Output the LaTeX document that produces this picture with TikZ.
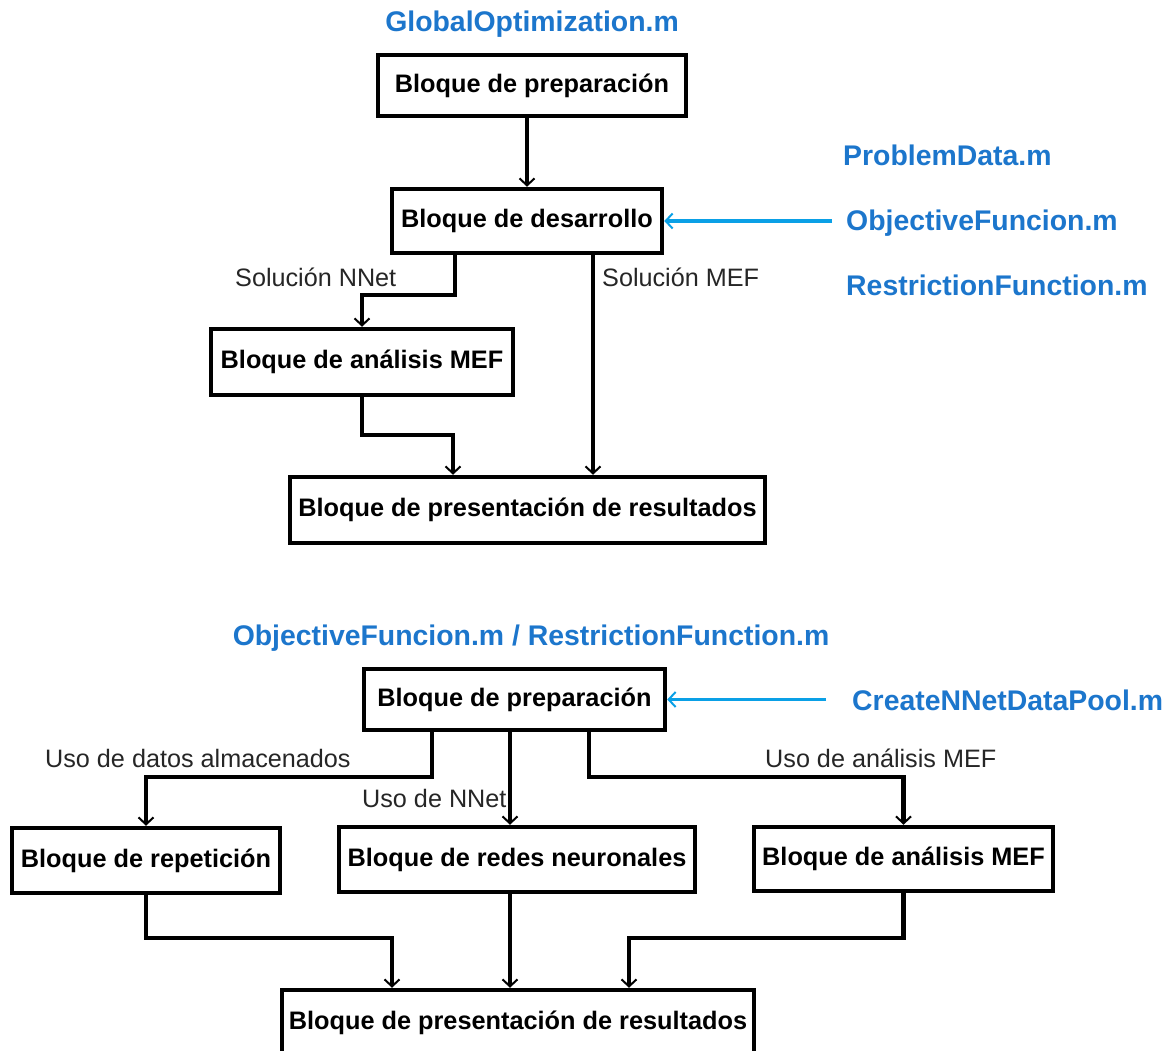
\documentclass[tikz,border=0pt]{standalone}
\usepackage{fontspec}
\setmainfont{Liberation Sans}
\usetikzlibrary{arrows.meta,calc}
\definecolor{filetext}{RGB}{28,118,204}
\definecolor{filearrow}{RGB}{10,160,230}
\tikzset{
  box/.style={draw=black, line width=4.5pt, fill=white, inner sep=0pt,
    font=\bfseries\fontsize{25.3}{29}\selectfont},
  conn/.style={draw=black, line width=4.2pt,
    -{Straight Barb[length=7pt,width=15pt,line width=2pt]}},
  feed/.style={draw=filearrow, line width=3.5pt,
    -{Straight Barb[length=7pt,width=15pt,line width=2pt]}},
  lbl/.style={inner sep=0pt, anchor=base west, text=black!85,
    font=\fontsize{25.2}{29}\selectfont},
  file/.style={inner sep=0pt, text=filetext,
    font=\bfseries\fontsize{28.4}{32}\selectfont},
}
\begin{document}
\begin{tikzpicture}[x=1pt,y=-1pt]
\useasboundingbox[fill=white] (0,0) rectangle (1176,1051);

% ---------- upper diagram ----------
\node[file, anchor=base] (gopt) at (532,32) {GlobalOptimization.m};
\node[box, minimum width=308, minimum height=61] (A) at (532,85.5) {Bloque de preparación};
\node[box, minimum width=270, minimum height=64] (B) at (527,221) {Bloque de desarrollo};
\node[box, minimum width=302, minimum height=66] (C) at (362,362) {Bloque de análisis MEF};
\node[box, minimum width=475, minimum height=66] (D) at (527.5,510) {Bloque de presentación de resultados};

\node[file, anchor=base west] (pdata) at (843,166) {ProblemData.m};
\node[file, anchor=base west] (objf) at (846,231) {ObjectiveFuncion.m};
\node[file, anchor=base west] (restf) at (846,295) {RestrictionFunction.m};

\node[lbl] (lnnet) at (235,287) {Solución NNet};
\node[lbl] (lmef) at (602,287) {Solución MEF};

\coordinate (xBl) at (455,0);
\coordinate (xBr) at (593,0);
\coordinate (xDl) at (453,0);

\draw[conn] (A.south -| B.north) -- (B.north);
\draw[conn] (B.south -| xBl) -- ++(0,40) -| (C.north);
\draw[conn] (B.south -| xBr) -- (D.north -| xBr);
\draw[conn] (C.south) -- ++(0,38) -| (D.north -| xDl);
\draw[feed] ([xshift=-14pt]objf.west |- B.east) -- (B.east);

% ---------- lower diagram ----------
\node[file, anchor=base] (ofrf) at (531,645) {ObjectiveFuncion.m / RestrictionFunction.m};
\node[box, minimum width=301, minimum height=61] (E) at (514.5,699.5) {Bloque de preparación};
\node[file, anchor=base west] (cndp) at (852,710) {CreateNNetDataPool.m};
\node[box, minimum width=268, minimum height=65] (F) at (146,860.5) {Bloque de repetición};
\node[box, minimum width=356, minimum height=65] (G) at (517,859.5) {Bloque de redes neuronales};
\node[box, minimum width=299, minimum height=64] (H) at (903.5,859) {Bloque de análisis MEF};
\node[box, minimum width=472, minimum height=66] (I) at (518,1023) {Bloque de presentación de resultados};

\node[lbl] (ldatos) at (45,767) {Uso de datos almacenados};
\node[lbl] (lnnet2) at (362,807) {Uso de NNet};
\node[lbl] (lmef2) at (765,767) {Uso de análisis MEF};

\coordinate (xEl) at (432,0);
\coordinate (xEm) at (510,0);
\coordinate (xEr) at (589,0);
\coordinate (xIl) at (392,0);
\coordinate (xIr) at (629,0);

\draw[feed] ([xshift=-26pt]cndp.west |- E.east) -- (E.east);
\draw[conn] (E.south -| xEl) -- ++(0,45) -| (F.north);
\draw[conn] (E.south -| xEm) -- (G.north -| xEm);
\draw[conn] (E.south -| xEr) -- ++(0,45) -| (H.north);
\draw[conn] (F.south) -- ++(0,43) -| (I.north -| xIl);
\draw[conn] (G.south -| xEm) -- (I.north -| xEm);
\draw[conn] (H.south) -- ++(0,45) -| (I.north -| xIr);
\end{tikzpicture}
\end{document}
